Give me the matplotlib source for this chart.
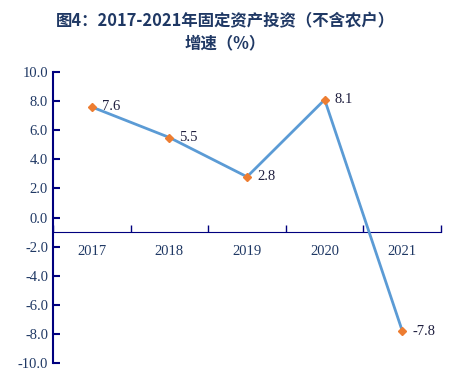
import numpy as np
import matplotlib.pyplot as plt

years = ["2017", "2018", "2019", "2020", "2021"]
growth = [7.6, 5.5, 2.8, 8.1, -7.8]
y_ticks = [10.0, 8.0, 6.0, 4.0, 2.0, 0.0, -2.0, -4.0, -6.0, -8.0, -10.0]

navy = "#1f3864"
axis_col = "#00007f"
plt.rcParams["font.family"] = ["Liberation Serif"]

fig = plt.figure(figsize=(4.6, 3.81), dpi=100)
ax = fig.add_axes([0.115, 0.047, 0.844, 0.764])

x = np.arange(len(years))
ax.plot(x, growth, color="#5b9bd5", lw=2, marker="D", ms=4,
        mfc="#ed7d31", mec="#ed7d31", zorder=3)
for xi, v in zip(x, growth):
    ax.text(xi + 0.13, v, f"{v:.1f}", fontsize=10.5,
            color="#1f1f3f", va="center", ha="left")

ax.set_xlim(-0.5, len(years) - 0.5)
ax.set_ylim(-10, 10)
ax.set_yticks(y_ticks, labels=[f"{t:.1f}" for t in y_ticks])

# ticks at category boundaries, labels at centres
ax.set_xticks(np.arange(-0.5, len(years)), labels=[""] * (len(years) + 1))
ax.set_xticks(x, labels=years, minor=True)
ax.tick_params(axis="x", which="minor", length=0, pad=9,
               labelsize=10.5, labelcolor=navy)
ax.tick_params(axis="x", which="major", direction="in", length=5,
               color=axis_col, width=1)
ax.tick_params(axis="y", direction="in", length=5, color=axis_col, width=1.5,
               labelsize=10.5, labelcolor=navy)

ax.spines["bottom"].set_position(("data", -1))
ax.spines["bottom"].set_color(axis_col)
ax.spines["left"].set_color(axis_col)
ax.spines["left"].set_linewidth(1.5)
ax.spines["top"].set_visible(False)
ax.spines["right"].set_visible(False)

cjk = ["Noto Sans CJK SC", "DejaVu Sans"]
fig.text(0.49, 0.945, "图4：2017-2021年固定资产投资（不含农户）",
         ha="center", va="center", fontsize=11.8, weight="bold",
         family=cjk, color=navy)
fig.text(0.49, 0.887, "增速（%）", ha="center", va="center", fontsize=11.8,
         weight="bold", family=cjk, color=navy)

fig.savefig("out.png", dpi=100)
